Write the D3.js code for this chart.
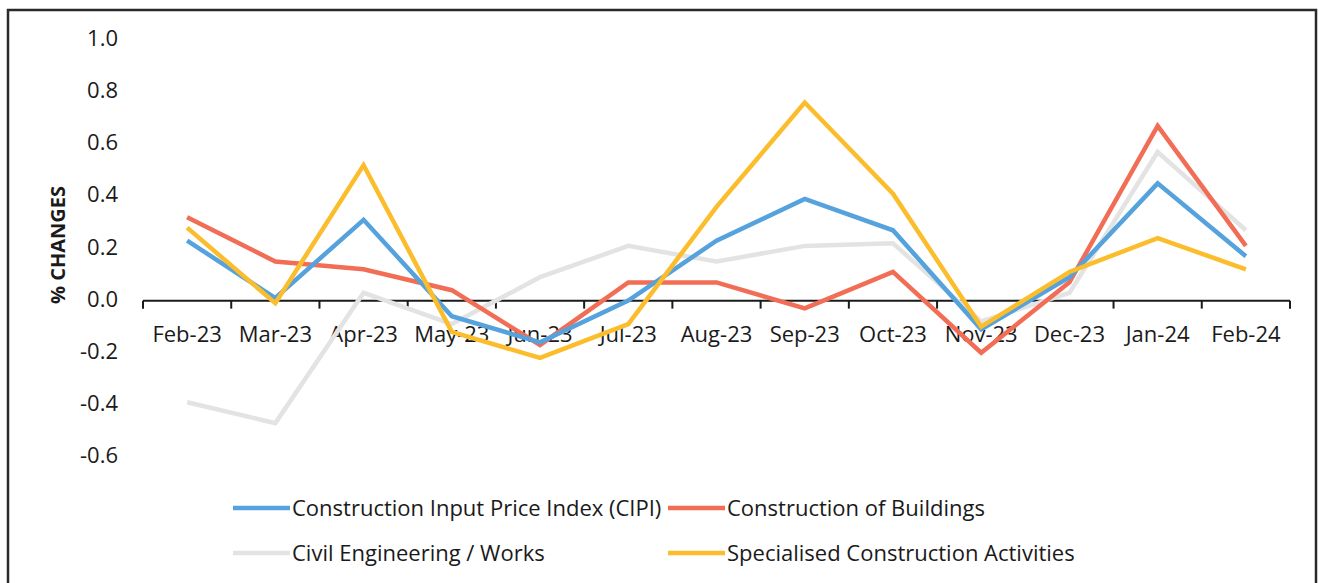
<!DOCTYPE html>
<html>
<head>
<meta charset="utf-8">
<script src="https://cdn.jsdelivr.net/npm/d3@7"></script>
<style>
  body { margin: 0; background: #fff; }
  text { font-family: "Open Sans", sans-serif; fill: #1a1a1a; }
</style>
</head>
<body>
<div id="chart"></div>
<script>
// chart size
const width = 1319;
const height = 583;
const margin = {left: 143, right: 29, top: 40, bottom: 128};

// data
const months = ["Feb-23","Mar-23","Apr-23","May-23","Jun-23","Jul-23","Aug-23","Sep-23","Oct-23","Nov-23","Dec-23","Jan-24","Feb-24"];
const cipi      = [0.23, 0.01, 0.31, -0.06, -0.16, 0.00, 0.23, 0.39, 0.27, -0.11, 0.09, 0.45, 0.17];
const buildings = [0.32, 0.15, 0.12, 0.04, -0.17, 0.07, 0.07, -0.03, 0.11, -0.20, 0.07, 0.67, 0.21];
const civil     = [-0.39, -0.47, 0.03, -0.09, 0.09, 0.21, 0.15, 0.21, 0.22, -0.08, 0.03, 0.57, 0.27];
const special   = [0.28, -0.01, 0.52, -0.12, -0.22, -0.09, 0.36, 0.76, 0.41, -0.10, 0.11, 0.24, 0.12];
const yTicks = [-0.6, -0.4, -0.2, 0.0, 0.2, 0.4, 0.6, 0.8, 1.0];

const series = [
  {name: "Construction Input Price Index (CIPI)", values: cipi, color: "#55a2dd"},
  {name: "Construction of Buildings", values: buildings, color: "#f26d55"},
  {name: "Civil Engineering / Works", values: civil, color: "#e3e3e3"},
  {name: "Specialised Construction Activities", values: special, color: "#fcbd2c"}
];
// draw order so that it looks like the picture (gray at the back)
const drawOrder = [2, 1, 0, 3];

const svg = d3.select("#chart")
  .append("svg")
  .attr("width", width)
  .attr("height", height);

// outer frame
svg.append("rect")
  .attr("x", 8).attr("y", 10)
  .attr("width", 1308).attr("height", 590)
  .attr("fill", "none")
  .attr("stroke", "#2a2a2a")
  .attr("stroke-width", 2.5);

// scales
const xScale = d3.scaleBand()
  .domain(months)
  .range([margin.left, width - margin.right]);

const yScale = d3.scaleLinear()
  .domain([-0.6, 1.0])
  .range([457, 40]);

// y labels (no axis line), plain hyphen for negatives like excel
const yAxis = svg.append("g")
  .attr("transform", `translate(${margin.left}, 0)`)
  .call(d3.axisLeft(yScale).tickValues(yTicks).tickFormat(d => d.toFixed(1)).tickSize(0).tickPadding(25));
yAxis.select(".domain").remove();
yAxis.selectAll("text")
  .attr("font-size", "22px")
  .attr("font-family", "Open Sans, sans-serif")
  .attr("fill", "#1a1a1a")
  .attr("dy", "0.25em");

// x axis at zero, ticks between categories
const xAxisG = svg.append("g")
  .attr("transform", `translate(0, ${yScale(0)})`);
xAxisG.append("line")
  .attr("x1", margin.left).attr("x2", width - margin.right)
  .attr("stroke", "#1a1a1a").attr("stroke-width", 2);
const edges = months.map(m => xScale(m)).concat([xScale(months[months.length - 1]) + xScale.bandwidth()]);
xAxisG.selectAll(".tk")
  .data(edges)
  .enter()
  .append("line")
    .attr("class", "tk")
    .attr("x1", d => d).attr("x2", d => d)
    .attr("y1", 0).attr("y2", 8)
    .attr("stroke", "#1a1a1a").attr("stroke-width", 2);
xAxisG.selectAll(".lbl")
  .data(months)
  .enter()
  .append("text")
    .attr("class", "lbl")
    .attr("x", d => xScale(d) + xScale.bandwidth() / 2)
    .attr("y", 41)
    .attr("text-anchor", "middle")
    .attr("font-size", "22px")
    .text(d => d);

// y title
svg.append("text")
  .attr("transform", `translate(65, 245) rotate(-90)`)
  .attr("text-anchor", "middle")
  .attr("font-size", "20px")
  .attr("font-weight", "bold")
  .text("% CHANGES");

// lines
const line = d3.line()
  .x((d, i) => xScale(months[i]) + xScale.bandwidth() / 2)
  .y(d => yScale(d));

svg.selectAll(".series")
  .data(drawOrder.map(i => series[i]))
  .enter()
  .append("path")
    .attr("class", "series")
    .attr("d", d => line(d.values))
    .attr("fill", "none")
    .attr("stroke", d => d.color)
    .attr("stroke-width", 4.5)
    .attr("stroke-linejoin", "miter");

// legend
const legendPos = [
  {x: 233, y: 508}, {x: 668, y: 508},
  {x: 233, y: 553}, {x: 668, y: 553}
];
const legend = svg.selectAll(".legend")
  .data(series)
  .enter()
  .append("g")
    .attr("class", "legend")
    .attr("transform", (d, i) => `translate(${legendPos[i].x}, ${legendPos[i].y})`);
legend.append("line")
  .attr("x1", 0).attr("x2", 57)
  .attr("stroke", d => d.color)
  .attr("stroke-width", 4.5);
legend.append("text")
  .attr("x", 59)
  .attr("dy", "0.35em")
  .attr("font-size", "22px")
  .text(d => d.name);
</script>
</body>
</html>
